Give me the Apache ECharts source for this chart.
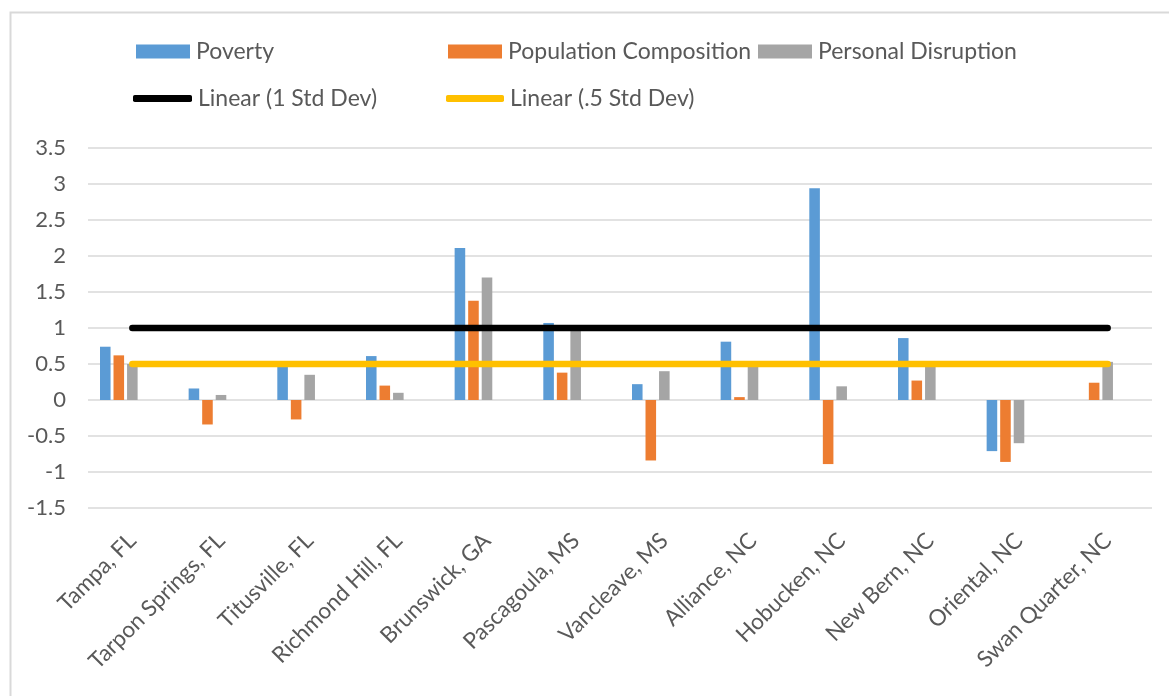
<!DOCTYPE html>
<html>
<head>
<meta charset="utf-8">
<script src="https://cdn.jsdelivr.net/npm/echarts@6/dist/echarts.min.js"></script>
<style>
html,body{margin:0;padding:0;background:#fff;}
#c{width:1169px;height:696px;}
</style>
</head>
<body>
<div id="c"></div>
<script>
const categories = ['Tampa, FL','Tarpon Springs, FL','Titusville, FL','Richmond Hill, FL','Brunswick, GA','Pascagoula, MS','Vancleave, MS','Alliance, NC','Hobucken, NC','New Bern, NC','Oriental, NC','Swan Quarter, NC'];
const poverty = [0.74, 0.16, 0.49, 0.61, 2.11, 1.07, 0.22, 0.81, 2.94, 0.86, -0.71, 0];
const populationComposition = [0.62, -0.34, -0.27, 0.20, 1.38, 0.38, -0.84, 0.04, -0.89, 0.27, -0.86, 0.24];
const personalDisruption = [0.50, 0.07, 0.35, 0.10, 1.70, 0.98, 0.40, 0.48, 0.19, 0.48, -0.60, 0.53];
const stdDev1 = [1,1,1,1,1,1,1,1,1,1,1,1];
const stdDevHalf = [0.5,0.5,0.5,0.5,0.5,0.5,0.5,0.5,0.5,0.5,0.5,0.5];
const yTicks = {min: -1.5, max: 3.5, interval: 0.5};

const FONT = 'Lato, "Open Sans", sans-serif';
const TXT = '#595959';
const chart = echarts.init(document.getElementById('c'), null, {renderer: 'canvas'});

function leg(name, left, top, icon, w, h) {
  return {
    data: [{name: name, icon: icon}],
    left: left, top: top, padding: 0,
    itemWidth: w, itemHeight: h, itemGap: 0,
    selectedMode: false,
    textStyle: {color: TXT, fontFamily: FONT, fontSize: 23, padding: [0,0,0,1]}
  };
}

chart.setOption({
  animation: false,
  backgroundColor: '#fff',
  graphic: [{
    type: 'rect', left: 8, top: 10,
    shape: {width: 1200, height: 720},
    style: {fill: 'none', stroke: '#D9D9D9', lineWidth: 2},
    silent: true
  }],
  legend: [
    leg('Poverty', 136, 40, 'rect', 54, 14),
    leg('Population Composition', 448, 40, 'rect', 54, 14),
    leg('Personal Disruption', 758, 40, 'rect', 54, 14),
    leg('Linear (1 Std Dev)', 133, 87, 'roundRect', 59, 7),
    leg('Linear (.5 Std Dev)', 446, 87, 'roundRect', 58, 7)
  ],
  grid: {left: 88, right: 17, top: 148, bottom: 188, containLabel: false},
  xAxis: {
    type: 'category',
    data: categories,
    boundaryGap: true,
    axisLine: {show: false},
    axisTick: {show: false},
    axisLabel: {interval: 0, rotate: 45, margin: 29, color: TXT, fontFamily: FONT, fontSize: 22.5}
  },
  yAxis: {
    type: 'value',
    min: yTicks.min, max: yTicks.max, interval: yTicks.interval,
    axisLine: {show: false},
    axisTick: {show: false},
    axisLabel: {margin: 22, color: TXT, fontFamily: FONT, fontSize: 22},
    splitLine: {lineStyle: {color: '#D9D9D9', width: 1.5}}
  },
  series: [
    {name: 'Poverty', type: 'bar', data: poverty, itemStyle: {color: '#5B9BD5'}, barCategoryGap: '27%', barGap: '28%'},
    {name: 'Population Composition', type: 'bar', data: populationComposition, itemStyle: {color: '#ED7D31'}},
    {name: 'Personal Disruption', type: 'bar', data: personalDisruption, itemStyle: {color: '#A5A5A5'}},
    {name: '1 Std Dev', type: 'bar', data: [], itemStyle: {color: 'transparent'}},
    {name: '.5 Std Dev', type: 'bar', data: [], itemStyle: {color: 'transparent'}},
    {name: 'Linear (1 Std Dev)', type: 'line', data: stdDev1, symbol: 'none', z: 5,
      itemStyle: {color: '#000000'}, lineStyle: {color: '#000000', width: 6.5, cap: 'round'}},
    {name: 'Linear (.5 Std Dev)', type: 'line', data: stdDevHalf, symbol: 'none', z: 5,
      itemStyle: {color: '#FFC000'}, lineStyle: {color: '#FFC000', width: 6.5, cap: 'round'}}
  ]
});
</script>
</body>
</html>
